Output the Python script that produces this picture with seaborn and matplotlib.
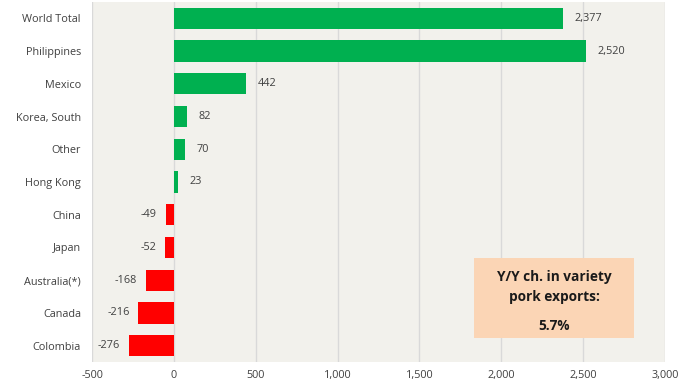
import matplotlib
matplotlib.use("Agg")
import matplotlib.pyplot as plt
import seaborn as sns
import pandas as pd
from matplotlib.patches import Rectangle

categories = ["World Total", "Philippines", "Mexico", "Korea, South", "Other",
              "Hong Kong", "China", "Japan", "Australia(*)", "Canada", "Colombia"]
values = [2377, 2520, 442, 82, 70, 23, -49, -52, -168, -216, -276]
xticks = [-500, 0, 500, 1000, 1500, 2000, 2500, 3000]
box_lines = ["Y/Y ch. in variety", "pork exports:", "5.7%"]

GREEN = "#00B050"
RED = "#FF0000"

sns.set_theme(style="white")
plt.rcParams['font.family'] = ['Open Sans', 'DejaVu Sans']

df = pd.DataFrame({"category": categories, "value": values})
palette = {c: (GREEN if v >= 0 else RED) for c, v in zip(categories, values)}

fig = plt.figure(figsize=(6.89, 3.88), dpi=100)
ax = fig.add_axes([92/689, 26/388, 573/689, 360/388])
ax.set_facecolor("#F2F1EC")

sns.barplot(data=df, x="value", y="category", hue="category", palette=palette,
            orient="h", width=0.65, legend=False, ax=ax, saturation=1, zorder=3,
            linewidth=0)

ax.set_xlim(-500, 3000)
ax.set_xticks(xticks)
ax.set_xticklabels([f"{t:,}" for t in xticks], fontsize=7.8, color="#404040")
ax.tick_params(axis="y", labelsize=7.8, colors="#404040", length=0, pad=8)
ax.tick_params(axis="x", length=0, pad=6)
ax.set_xlabel("")
ax.set_ylabel("")
ax.grid(axis="x", color="#D9D9D9", linewidth=1, zorder=0)
ax.set_axisbelow(True)
for s in ax.spines.values():
    s.set_visible(False)
ax.set_ylim(len(categories) - 0.5, -0.5)

for i, v in enumerate(values):
    if v >= 0:
        ax.text(v + 70, i, f"{v:,}", va="center", ha="left", fontsize=7.8, color="#404040", zorder=5)
    else:
        ax.text(v - 55, i, f"{v:,}", va="center", ha="right", fontsize=7.8, color="#404040", zorder=5)

ax.add_patch(Rectangle((0.667, 0.067), 0.279, 0.222, transform=ax.transAxes,
                       facecolor="#FBD5B5", edgecolor="none", zorder=6))
ys = [0.236, 0.181, 0.100]
for t, y in zip(box_lines, ys):
    ax.text(0.8065, y, t, transform=ax.transAxes, ha="center", va="center",
            fontsize=9.8, fontweight="bold", color="#1a1a1a", zorder=7)

fig.savefig("out.png", dpi=100, facecolor="white")
